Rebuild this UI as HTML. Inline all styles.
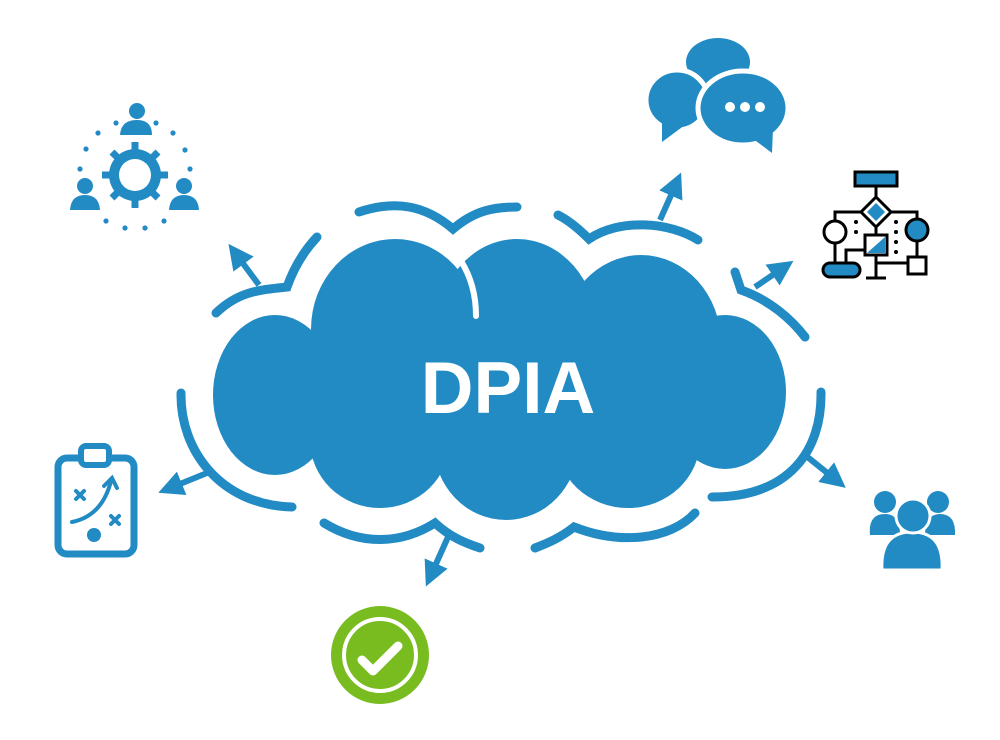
<!DOCTYPE html>
<html><head><meta charset="utf-8"><style>html,body{margin:0;padding:0;background:#fff}svg{display:block}</style></head>
<body>
<svg width="1000" height="740" viewBox="0 0 1000 740" xmlns="http://www.w3.org/2000/svg">
<defs>
<marker id="ah" viewBox="0 0 10 10" refX="5" refY="5" markerWidth="4.2" markerHeight="4.2" orient="auto" markerUnits="strokeWidth">
<path d="M0,0 L10,5 L0,10 Z" fill="#228bc4"/>
</marker>
</defs>
<!-- cloud -->
<g fill="#228bc4">
<ellipse cx="275" cy="395" rx="62" ry="80"/>
<ellipse cx="395" cy="329" rx="84" ry="90"/>
<ellipse cx="517" cy="330" rx="80" ry="91"/>
<ellipse cx="641" cy="343" rx="80" ry="88"/>
<ellipse cx="725" cy="392" rx="61" ry="77"/>
<ellipse cx="380" cy="440" rx="70" ry="68"/>
<ellipse cx="506" cy="445" rx="72" ry="75"/>
<ellipse cx="628" cy="440" rx="72" ry="68"/>
<rect x="305" y="330" width="410" height="125"/>
</g>
<path d="M461,261 Q476,285 476,316" stroke="#fff" stroke-width="6" fill="none" stroke-linecap="round"/>
<text x="508" y="413" text-anchor="middle" font-family="Liberation Sans, sans-serif" font-weight="bold" font-size="73" fill="#fff">DPIA</text>
<!-- outline arcs -->
<g stroke="#228bc4" stroke-width="9" fill="none" stroke-linecap="round">
<path d="M359,212 C395,200 425,205 453,229 C475,210 495,207 517,207"/>
<path d="M558,215 C570,221 580,230 589,239 C620,218 670,222 698,240"/>
<path d="M735,272 L741,290 C770,300 792,320 805,337"/>
<path d="M821,392 C822,450 790,497 712,497"/>
<path d="M695,513 C670,540 620,545 574,527 C560,538 548,543 535,548"/>
<path d="M324,523 C360,545 400,545 435,523 C450,537 465,543 480,548"/>
<path d="M181,393 C180,450 220,505 292,507"/>
<path d="M216,313 C240,290 262,290 287,287 C293,270 303,252 317,237"/>
</g>
<g stroke="#228bc4" stroke-width="6" fill="none" marker-end="url(#ah)">
<path d="M660,220 L676,184"/>
<path d="M755,287 L783,268"/>
<path d="M805,455 L836,480"/>
<path d="M448,537 L431,575"/>
<path d="M207,473 L170,488"/>
<path d="M259,285 L236,254"/>
</g>
<!-- chat icon -->
<g fill="#228bc4">
<ellipse cx="718" cy="62" rx="32" ry="24"/>
<ellipse cx="677" cy="100" rx="31" ry="30" stroke="#fff" stroke-width="5"/>
<path d="M662,120 L662,142 L685,125 Z"/>
<ellipse cx="743" cy="108" rx="45" ry="37" stroke="#fff" stroke-width="5"/>
<path d="M752,138 L772,153 L773,128 Z"/>
</g>
<g fill="#fff"><circle cx="730" cy="107" r="5"/><circle cx="745" cy="107" r="5"/><circle cx="760" cy="107" r="5"/></g>
<!-- flowchart icon -->
<g stroke="#000" stroke-width="3" fill="none">
<path d="M876,186 V197 M876,227 V235 M861,212 H835 V221 M891,212 H917 V219 M835,243 V263 M917,241 V257 M876,255 V278 M866,278 H886 M876,263 H908 M865,250 H846 V263"/>
</g>
<rect x="855" y="172" width="42" height="14" fill="#228bc4" stroke="#000" stroke-width="3"/>
<path d="M876,197 L891,212 L876,227 L861,212 Z" fill="#fff" stroke="#000" stroke-width="3"/>
<path d="M876,203 L885,212 L876,221 L867,212 Z" fill="#228bc4"/>
<circle cx="835" cy="232" r="11" fill="#fff" stroke="#000" stroke-width="3"/>
<circle cx="917" cy="230" r="11" fill="#228bc4" stroke="#000" stroke-width="3"/>
<rect x="865" y="235" width="22" height="20" fill="#fff" stroke="#000" stroke-width="3"/>
<path d="M867,253 L885,237 L885,253 Z" fill="#228bc4"/>
<rect x="823" y="263" width="37" height="14" rx="7" fill="#228bc4" stroke="#000" stroke-width="3"/>
<rect x="908" y="257" width="18" height="17" fill="#fff" stroke="#000" stroke-width="3"/>
<g fill="#000"><circle cx="856" cy="222" r="2"/><circle cx="856" cy="232" r="2"/><circle cx="896" cy="222" r="2"/><circle cx="896" cy="232" r="2"/><circle cx="896" cy="242" r="2"/><circle cx="896" cy="252" r="2"/></g>
<!-- team gear icon -->
<g fill="#228bc4">
<circle cx="135" cy="175" r="26"/>
<g stroke="#228bc4" stroke-width="7">
<path d="M135,142 V208 M102,175 H168 M112,152 L158,198 M158,152 L112,198"/>
</g>
<circle cx="135" cy="175" r="16" fill="#fff"/>
<circle cx="137" cy="111" r="8"/><path d="M120,135 Q121,120 137,120 Q152,120 152,135 Z"/>
<circle cx="85" cy="186" r="8"/><path d="M70,210 Q71,195 85,195 Q99,195 100,210 Z"/>
<circle cx="184" cy="186" r="8"/><path d="M169,210 Q170,195 184,195 Q198,195 199,210 Z"/>
<circle cx="116" cy="123" r="2.6"/><circle cx="156" cy="123" r="2.6"/>
<circle cx="98" cy="133" r="2.6"/><circle cx="173" cy="133" r="2.6"/>
<circle cx="86" cy="149" r="2.6"/><circle cx="185" cy="150" r="2.6"/>
<circle cx="80" cy="169" r="2.6"/><circle cx="190" cy="169" r="2.6"/>
<circle cx="106" cy="221" r="2.6"/><circle cx="125" cy="228" r="2.6"/>
<circle cx="145" cy="228" r="2.6"/><circle cx="164" cy="221" r="2.6"/>
</g>
<!-- clipboard -->
<rect x="58" y="458" width="76" height="96" rx="9" fill="none" stroke="#228bc4" stroke-width="7"/>
<rect x="81" y="446" width="28" height="19" rx="5" fill="#fff" stroke="#228bc4" stroke-width="6"/>
<g stroke="#228bc4" stroke-width="4" stroke-linecap="round" fill="none">
<path d="M76,491 L84,499 M84,491 L76,499"/>
<path d="M111,516 L119,524 M119,516 L111,524"/>
<path d="M72,522 Q102,516 111,481"/>
<path d="M104,486 L112,478 L117,488"/>
</g>
<circle cx="94" cy="535" r="7" fill="#228bc4"/>
<!-- people -->
<g fill="#228bc4">
<circle cx="885" cy="502" r="11"/><circle cx="938" cy="502" r="11"/>
<path d="M870,535 Q868,514 885,514 Q900,514 900,535 Z"/>
<path d="M925,535 Q925,514 940,514 Q956,514 955,535 Z"/>
<path d="M882,570 Q880,532 912,532 Q944,532 942,570 Z" stroke="#fff" stroke-width="3"/>
<circle cx="913" cy="516" r="17" stroke="#fff" stroke-width="3"/>
</g>
<!-- check -->
<circle cx="380" cy="655" r="49" fill="#78bc20"/>
<circle cx="380" cy="655" r="36" fill="none" stroke="#fff" stroke-width="4"/>
<path d="M362,660 L373,671 L398,646" stroke="#fff" stroke-width="9" fill="none" stroke-linecap="round" stroke-linejoin="round"/>
</svg>
</body></html>
